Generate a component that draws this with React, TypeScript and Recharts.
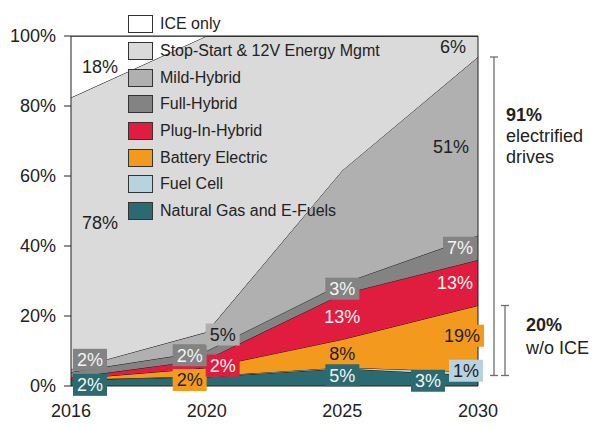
import { Area, ComposedChart, LabelList, Legend, Line, ReferenceLine, XAxis, YAxis } from 'recharts'

const years = ['2016', '2020', '2025', '2030']
const yTicks = [0, 20, 40, 60, 80, 100]

// share of new vehicles, % (bottom of the stack first)
const naturalGas = [1.8, 2.6, 5, 3]
const fuelCell = [0, 0.2, 0.3, 1]
const batteryElectric = [0.2, 2.4, 8, 19]
const plugInHybrid = [0.4, 2.4, 13, 13]
const fullHybrid = [1.6, 2.4, 3, 7]
const mildHybrid = [0.8, 5.4, 32.3, 51]
const stopStart = [77.6, 84.6, 38.4, 6]
const iceOnly = [17.6, 0, 0, 0]

const seriesKeys = ['ng', 'fc', 'bev', 'phev', 'fh', 'mh', 'ss', 'ice'] as const
type Key = (typeof seriesKeys)[number]

const seriesNames: Record<Key, string> = {
  ng: 'Natural Gas and E-Fuels',
  fc: 'Fuel Cell',
  bev: 'Battery Electric',
  phev: 'Plug-In-Hybrid',
  fh: 'Full-Hybrid',
  mh: 'Mild-Hybrid',
  ss: 'Stop-Start & 12V Energy Mgmt',
  ice: 'ICE only',
}

const seriesValues: Record<Key, number[]> = {
  ng: naturalGas,
  fc: fuelCell,
  bev: batteryElectric,
  phev: plugInHybrid,
  fh: fullHybrid,
  mh: mildHybrid,
  ss: stopStart,
  ice: iceOnly,
}

// which points carry a value label
const labelled: Record<Key, number[]> = {
  ng: [0, 2, 3],
  fc: [3],
  bev: [1, 2, 3],
  phev: [1, 2, 3],
  fh: [0, 1, 2, 3],
  mh: [1, 3],
  ss: [0, 3],
  ice: [0],
}

const colors: Record<Key, string> = {
  ng: '#2b6a71',
  fc: '#b7d2e0',
  bev: '#f39a1e',
  phev: '#e11d3f',
  fh: '#838383',
  mh: '#b0b0b0',
  ss: '#dadada',
  ice: '#ffffff',
}

const textColors: Record<Key, string> = {
  ng: '#f4f4f4',
  fc: '#1e1e1e',
  bev: '#1e1e1e',
  phev: '#f4f4f4',
  fh: '#f4f4f4',
  mh: '#1e1e1e',
  ss: '#1e1e1e',
  ice: '#1e1e1e',
}

// labels drawn without a coloured box
const plainLabels = ['ice-0', 'ss-0', 'ss-3', 'mh-3', 'phev-2', 'phev-3', 'bev-2']

// hand nudges so labels sit like in the original slide
const edgeShift = [19, 0, 0, -18]
const nudges: Record<string, [number, number]> = {
  'ice-0': [29, 0],
  'ss-0': [29, -11],
  'ss-3': [-25, 0],
  'mh-3': [-27, 0],
  'mh-1': [16, -7],
  'fh-0': [19, -15],
  'ng-0': [19, 2],
  'fh-1': [-17, 0],
  'phev-1': [16, 2],
  'bev-1': [-17, 8],
  'ng-2': [0, -2],
  'phev-3': [-23, 0],
  'bev-3': [-16, -3],
  'fc-3': [-12, -3],
  'ng-3': [-50, 0],
}

const FONT = '"Liberation Sans", Arial, sans-serif'
const W = 595
const H = 429
const PLOT_TOP = 36
const PLOT_H = 350
const PLOT_LEFT = 71
const PLOT_RIGHT = 478

const data = years.map((year, i) => {
  const row: Record<string, number | string> = { year }
  let base = 0
  seriesKeys.forEach((k) => {
    const v = seriesValues[k][i]
    row[k] = v
    row[`mid_${k}`] = base + v / 2
    base += v
  })
  return row
})

const textWidth = (s: string) =>
  s.split('').reduce((w, c) => w + (c === '%' ? 0.889 : 0.556), 0) * 18

function makeLabel(key: Key) {
  return (props: any) => {
    const { x, y, index } = props
    if (!labelled[key].includes(index)) return null
    const id = `${key}-${index}`
    const [dx, dy] = nudges[id] ?? [edgeShift[index], 0]
    const text = `${Math.round(seriesValues[key][index])}%`
    const cx = x + dx
    const cy = y + dy
    const w = textWidth(text) + 8
    const boxed = !plainLabels.includes(id)
    return (
      <g key={id}>
        {boxed && <rect x={cx - w / 2} y={cy - 11} width={w} height={22} fill={colors[key]} />}
        <text x={cx} y={cy} dy="0.36em" textAnchor="middle" fontSize={18} fontFamily={FONT} fill={textColors[key]}>
          {text}
        </text>
      </g>
    )
  }
}

function LegendBox() {
  return (
    <div style={{ fontFamily: FONT, fontSize: 16, color: '#222' }}>
      {[...seriesKeys].reverse().map((k) => (
        <div key={k} style={{ display: 'flex', alignItems: 'center', height: 26.7, whiteSpace: 'nowrap' }}>
          <span
            style={{
              display: 'inline-block',
              width: 25,
              height: 18,
              boxSizing: 'border-box',
              border: '1.5px solid #333',
              background: colors[k],
              marginRight: 7,
            }}
          />
          {seriesNames[k]}
        </div>
      ))}
    </div>
  )
}

const yPix = (v: number) => PLOT_TOP + ((100 - v) / 100) * PLOT_H

function Brackets() {
  const last = years.length - 1
  const electrifiedTop = 100 - stopStart[last] - iceOnly[last]
  const bottom = naturalGas[last]
  const zeroEmission = fuelCell[last] + batteryElectric[last]
  const smallTop = bottom + zeroEmission
  const electrified = Math.round(electrifiedTop - bottom)
  const bx = PLOT_RIGHT + 16
  const sx = PLOT_RIGHT + 27
  const c = '#6e6e6e'
  return (
    <svg width={W} height={H} style={{ position: 'absolute', left: 0, top: 0, pointerEvents: 'none' }}>
      <g stroke={c} strokeWidth={1.3}>
        <line x1={bx} x2={bx} y1={yPix(electrifiedTop)} y2={yPix(bottom)} />
        <line x1={bx - 4} x2={bx + 4} y1={yPix(electrifiedTop)} y2={yPix(electrifiedTop)} />
        <line x1={bx - 4} x2={bx + 4} y1={yPix(bottom)} y2={yPix(bottom)} />
        <line x1={sx} x2={sx} y1={yPix(smallTop)} y2={yPix(bottom)} />
        <line x1={sx - 4} x2={sx + 4} y1={yPix(smallTop)} y2={yPix(smallTop)} />
        <line x1={sx - 4} x2={sx + 4} y1={yPix(bottom)} y2={yPix(bottom)} />
      </g>
      <g fontFamily={FONT} fontSize={18} fill="#222">
        <text x={506} y={121} fontWeight={700}>{`${electrified}%`}</text>
        <text x={506} y={142}>electrified</text>
        <text x={506} y={163}>drives</text>
        <text x={526} y={331} fontWeight={700}>{`${Math.round(zeroEmission)}%`}</text>
        <text x={526} y={354}>w/o ICE</text>
      </g>
    </svg>
  )
}

export default function App() {
  return (
    <div style={{ position: 'absolute', left: 0, top: 0, width: W, height: H, background: '#fff', fontFamily: FONT }}>
      <ComposedChart width={W} height={H} data={data} margin={{ top: PLOT_TOP, right: W - PLOT_RIGHT, bottom: 0, left: 0 }}>
        <XAxis
          dataKey="year"
          height={H - PLOT_TOP - PLOT_H}
          axisLine={{ stroke: '#222' }}
          tickLine={false}
          tickMargin={12}
          tick={{ fontSize: 18, fill: '#222', fontFamily: FONT }}
          interval={0}
        />
        <YAxis
          width={PLOT_LEFT}
          domain={[0, 100]}
          allowDataOverflow
          ticks={yTicks}
          tickFormatter={(v) => `${v}%`}
          axisLine={{ stroke: '#222' }}
          tickLine={{ stroke: '#222' }}
          tickSize={7}
          tickMargin={8}
          tick={{ fontSize: 18, fill: '#222', fontFamily: FONT }}
        />
        {seriesKeys.map((k) => (
          <Area
            key={k}
            type="linear"
            dataKey={k}
            stackId="share"
            fill={colors[k]}
            fillOpacity={1}
            stroke="#111"
            strokeWidth={1}
            dot={false}
            activeDot={false}
            isAnimationActive={false}
          />
        ))}
        <ReferenceLine y={100} stroke="#222" />
        <ReferenceLine x="2030" stroke="#222" />
        {seriesKeys.map((k) => (
          <Line
            key={`mid_${k}`}
            dataKey={`mid_${k}`}
            stroke="none"
            dot={false}
            activeDot={false}
            legendType="none"
            isAnimationActive={false}
          >
            <LabelList dataKey={`mid_${k}`} content={makeLabel(k)} />
          </Line>
        ))}
        <Legend
          layout="vertical"
          align="center"
          verticalAlign="middle"
          content={() => <LegendBox />}
          wrapperStyle={{ left: 128, top: 11, width: 'auto', height: 'auto' }}
        />
      </ComposedChart>
      <Brackets />
    </div>
  )
}
